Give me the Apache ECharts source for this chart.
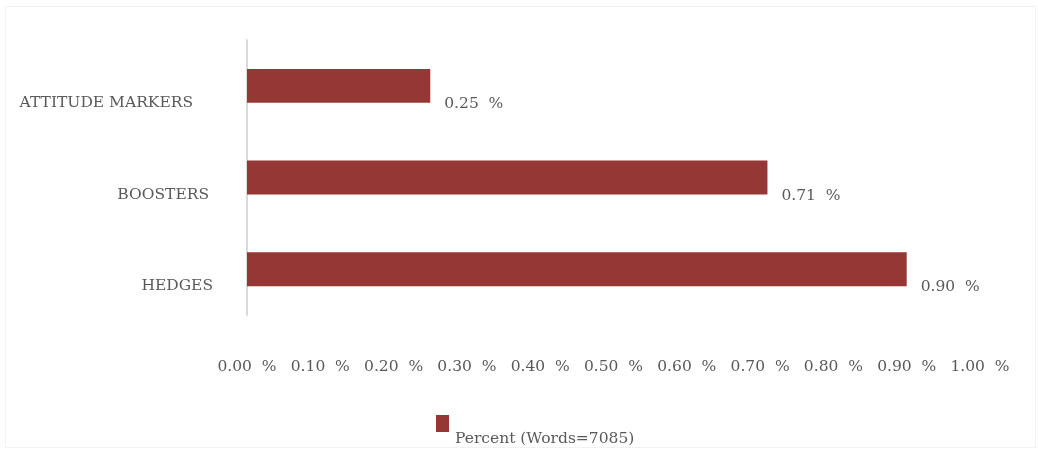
<!DOCTYPE html>
<html>
<head>
<meta charset="utf-8">
<script src="https://cdn.jsdelivr.net/npm/echarts@6/dist/echarts.min.js"></script>
<style>
  html, body { margin: 0; padding: 0; background: #ffffff; }
  #frame { position: absolute; left: 5px; top: 6px; width: 1031px; height: 442px; border: 1px solid #f2f2f2; box-sizing: border-box; }
  #chart { width: 1038px; height: 450px; }
</style>
</head>
<body>
<div id="frame"></div>
<div id="chart"></div>
<script>
// Categories listed bottom-to-top (category axis order on a horizontal bar chart)
const categories = ['HEDGES', 'BOOSTERS', 'ATTITUDE MARKERS'];
const percentValues = [0.90, 0.71, 0.25];
const seriesName = 'Percent (Words=7085)';
const xTicks = [0, 0.1, 0.2, 0.3, 0.4, 0.5, 0.6, 0.7, 0.8, 0.9, 1.0];

const FONT = '"DejaVu Serif", "Liberation Serif", serif';
const SIZE = 15.5;
const TEXT = '#595959';
const BAR = '#953735';

// rich styles for the category labels: dropped below the bar centre, each nudged a little
const catStyles = {
  c0: { fontFamily: FONT, fontSize: SIZE, color: TEXT, padding: [34, 0, 0, 0] },
  c1: { fontFamily: FONT, fontSize: SIZE, color: TEXT, padding: [34, 4, 0, 0] },
  c2: { fontFamily: FONT, fontSize: SIZE, color: TEXT, padding: [34, 20, 0, 0] }
};

const pct = v => v.toFixed(2) + '  %';

const chart = echarts.init(document.getElementById('chart'), null, { renderer: 'canvas' });

chart.setOption({
  animation: false,
  backgroundColor: 'transparent',
  textStyle: { fontFamily: FONT },
  grid: { left: 247, right: 58, top: 40, bottom: 135, containLabel: false },
  legend: {
    top: 415,
    left: 436,
    padding: 0,
    itemWidth: 13,
    itemHeight: 17,
    itemGap: 6,
    icon: 'rect',
    data: [seriesName],
    formatter: '{t|{name}}',
    textStyle: {
      fontFamily: FONT, fontSize: SIZE, color: TEXT,
      rich: { t: { fontFamily: FONT, fontSize: SIZE, color: TEXT, padding: [31, 0, 0, 1] } }
    }
  },
  xAxis: {
    type: 'value',
    min: xTicks[0],
    max: xTicks[xTicks.length - 1],
    interval: 0.1,
    axisLine: { show: false },
    axisTick: { show: false },
    splitLine: { show: false },
    axisLabel: {
      margin: 44,
      fontFamily: FONT,
      fontSize: SIZE,
      color: TEXT,
      formatter: pct
    }
  },
  yAxis: {
    type: 'category',
    data: categories,
    axisLine: { show: true, lineStyle: { color: '#d9d9d9', width: 2 } },
    axisTick: { show: false },
    axisLabel: {
      margin: 34,
      fontFamily: FONT,
      fontSize: SIZE,
      color: TEXT,
      verticalAlign: 'middle',
      formatter: (v, i) => '{c' + i + '|' + v + '}',
      rich: catStyles
    }
  },
  series: [{
    name: seriesName,
    type: 'bar',
    data: percentValues,
    barWidth: '37%',
    itemStyle: { color: BAR },
    label: {
      show: true,
      position: 'right',
      distance: 14,
      offset: [0, 18],
      fontFamily: FONT,
      fontSize: SIZE,
      color: TEXT,
      formatter: p => pct(p.value)
    }
  }]
});
</script>
</body>
</html>
